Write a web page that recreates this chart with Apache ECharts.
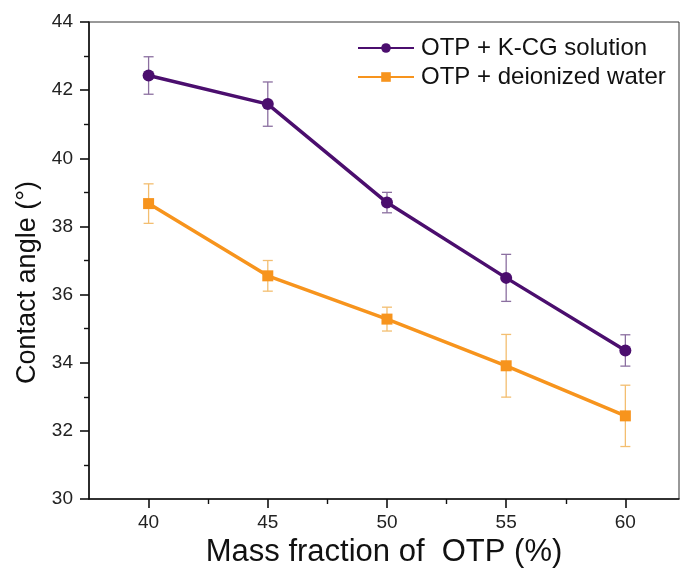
<!DOCTYPE html>
<html>
<head>
<meta charset="utf-8">
<style>
html,body{margin:0;padding:0;background:#fff;}
#box{width:681px;height:569px;}
</style>
<script src="https://cdn.jsdelivr.net/npm/echarts@6/dist/echarts.min.js"></script>
</head>
<body>
<div id="box"></div>
<script>
//数据
var fractions = [40, 45, 50, 55, 60];
var kcgAngle = [42.43, 41.59, 38.70, 36.49, 34.36];
var kcgErr = [0.55, 0.65, 0.30, 0.69, 0.46];
var waterAngle = [38.67, 36.55, 35.28, 33.91, 32.44];
var waterErr = [0.58, 0.45, 0.35, 0.92, 0.90];
var xTicks = [40, 45, 50, 55, 60];
var xMinorTicks = [42.5, 47.5, 52.5, 57.5];
var seriesNames = ['OTP + K-CG solution', 'OTP + deionized water'];

var font = '"Liberation Sans", Arial, sans-serif';
var purple = '#4B0E6E';
var orange = '#F7941D';

function pairs(ys) {
    return fractions.map(function (x, i) { return [x, ys[i]]; });
}
function errData(ys, es) {
    return fractions.map(function (x, i) { return [x, ys[i] - es[i], ys[i] + es[i]]; });
}
//误差棒
function errBar(color) {
    return function (params, api) {
        var lo = api.coord([api.value(0), api.value(1)]);
        var hi = api.coord([api.value(0), api.value(2)]);
        var w = 5;
        var st = { stroke: color, lineWidth: 1.3 };
        return {
            type: 'group',
            children: [
                { type: 'line', shape: { x1: hi[0], y1: hi[1], x2: lo[0], y2: lo[1] }, style: st },
                { type: 'line', shape: { x1: hi[0] - w, y1: hi[1], x2: hi[0] + w, y2: hi[1] }, style: st },
                { type: 'line', shape: { x1: lo[0] - w, y1: lo[1], x2: lo[0] + w, y2: lo[1] }, style: st }
            ]
        };
    };
}

var option = {
    animation: false,
    grid: {
        left: 89, right: 2, top: 22, bottom: 70,
        show: true, borderColor: '#333', borderWidth: 1,
        containLabel: false, outerBoundsMode: 'none'
    },
    legend: {
        orient: 'vertical',
        left: 352, top: 31,
        itemWidth: 56, itemHeight: 12, itemGap: 5,
        data: seriesNames,
        textStyle: { fontSize: 24, color: '#111', fontFamily: font, padding: [0, 0, 0, 2] }
    },
    xAxis: [{
        type: 'value',
        min: 37.5, max: 62.25,
        name: 'Mass fraction of  OTP (%)',
        nameLocation: 'middle',
        nameGap: 36,
        nameTextStyle: { fontSize: 31, color: '#111', fontFamily: font },
        axisLine: { lineStyle: { color: '#111', width: 1.6 } },
        axisTick: { length: 9, lineStyle: { color: '#111', width: 1.6 }, customValues: xTicks },
        axisLabel: { fontSize: 19, color: '#222', fontFamily: font, margin: 14, customValues: xTicks },
        splitLine: { show: false }
    }, {
        type: 'value',
        min: 37.5, max: 62.25,
        position: 'bottom',
        axisLine: { show: false },
        axisTick: { length: 5, lineStyle: { color: '#111', width: 1.4 }, customValues: xMinorTicks },
        axisLabel: { show: false, customValues: xMinorTicks },
        splitLine: { show: false }
    }],
    yAxis: {
        type: 'value',
        min: 30, max: 44, interval: 2,
        name: 'Contact angle (°)',
        nameLocation: 'middle',
        nameGap: 35,
        nameTextStyle: { fontSize: 27, color: '#111', fontFamily: font, padding: [0, 44, 0, 0] },
        axisLine: { show: true, lineStyle: { color: '#111', width: 1.6 } },
        axisTick: { show: true, length: 9, lineStyle: { color: '#111', width: 1.6 } },
        minorTick: { show: true, splitNumber: 2, length: 5, lineStyle: { color: '#111', width: 1.4 } },
        axisLabel: { fontSize: 19, color: '#222', fontFamily: font, margin: 16 },
        splitLine: { show: false }
    },
    series: [
        {
            name: seriesNames[0] + ' err', type: 'custom', z: 1,
            renderItem: errBar('#8B6FA0'), data: errData(kcgAngle, kcgErr),
            encode: { x: 0, y: [1, 2] }
        },
        {
            name: seriesNames[1] + ' err', type: 'custom', z: 1,
            renderItem: errBar('#F3BE70'), data: errData(waterAngle, waterErr),
            encode: { x: 0, y: [1, 2] }
        },
        {
            name: seriesNames[0], type: 'line', z: 3,
            data: pairs(kcgAngle),
            symbol: 'circle', symbolSize: 12,
            lineStyle: { color: purple, width: 3.5 },
            itemStyle: { color: purple }
        },
        {
            name: seriesNames[1], type: 'line', z: 3,
            data: pairs(waterAngle),
            symbol: 'rect', symbolSize: 11,
            lineStyle: { color: orange, width: 3.5 },
            itemStyle: { color: orange }
        }
    ]
};

var chart = echarts.init(document.getElementById('box'));
chart.setOption(option);
</script>
</body>
</html>
